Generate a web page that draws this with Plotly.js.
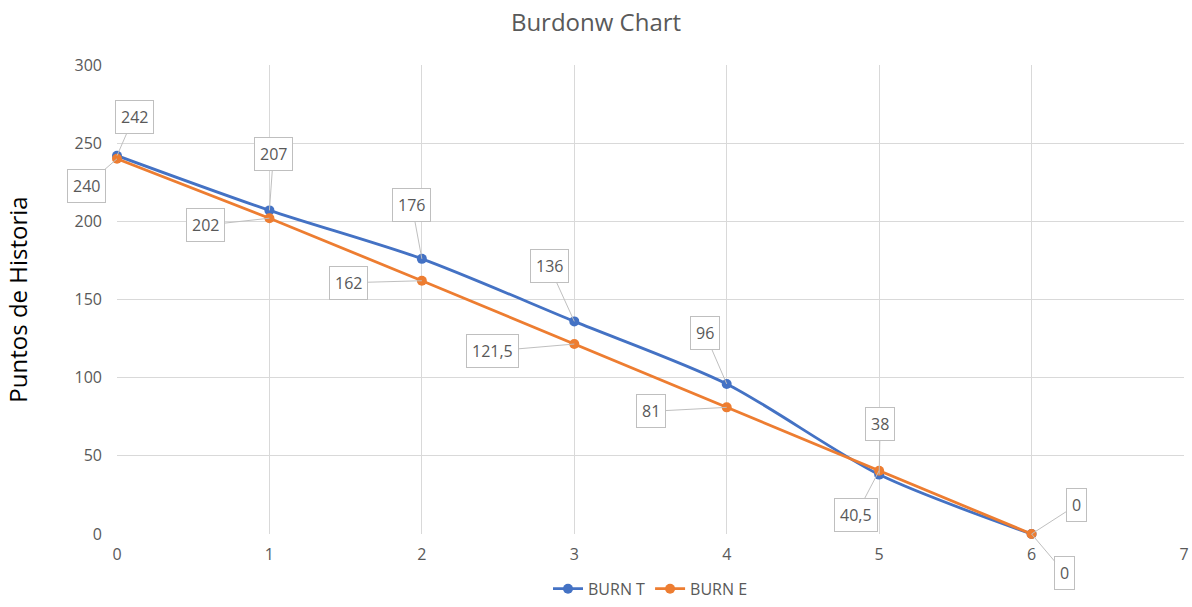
<!DOCTYPE html>
<html><head><meta charset="utf-8">
<script src="https://cdn.plot.ly/plotly-3.0.1.min.js"></script>
<style>html,body{margin:0;padding:0;background:#fff}#chart{width:1192px;height:607px}</style>
</head><body><div id="chart"></div>
<script>
const sprints = [0, 1, 2, 3, 4, 5, 6];
const burnT = [242, 207, 176, 136, 96, 38, 0];
const burnE = [240, 202, 162, 121.5, 81, 40.5, 0];
const labelsT = ["242", "207", "176", "136", "96", "38", "0"];
const labelsE = ["240", "202", "162", "121,5", "81", "40,5", "0"];
// callout offsets (pixels) for each label
const offT = [[17,-39],[4,-56],[-10,-54],[-25,-55],[-22,-51],[1,-51],[45,-29]];
const offE = [[-31,27],[-64,7],[-73,2],[-82,7],[-76,4],[-23,44],[33,39]];

const blue = '#4472C4', orange = '#ED7D31';
const txt = '#595959';

const traces = [
  {x: sprints, y: burnT, name: 'BURN T', type: 'scatter', mode: 'lines+markers',
   line: {color: blue, width: 2.8, shape: 'spline', smoothing: 0.8},
   marker: {color: blue, size: 10}, cliponaxis: false},
  {x: sprints, y: burnE, name: 'BURN E', type: 'scatter', mode: 'lines+markers',
   line: {color: orange, width: 2.8},
   marker: {color: orange, size: 10}, cliponaxis: false}
];

function mk(xs, ys, labels, offs) {
  return xs.map((x, i) => ({
    x: x, y: ys[i], xref: 'x', yref: 'y', text: labels[i],
    showarrow: true, arrowhead: 0, arrowwidth: 1, arrowcolor: '#BFBFBF',
    ax: offs[i][0], ay: offs[i][1], standoff: 0,
    bgcolor: '#FFFFFF', bordercolor: '#BFBFBF', borderwidth: 1, borderpad: 5,
    font: {family: 'Open Sans, sans-serif', size: 16, color: txt}
  }));
}

const layout = {
  width: 1192, height: 607,
  margin: {l: 117, r: 8, t: 65, b: 73, autoexpand: false},
  paper_bgcolor: '#fff', plot_bgcolor: '#fff',
  title: {text: 'Burdonw Chart', x: 0.5, xanchor: 'center', y: 0.962, yanchor: 'middle',
    font: {family: 'Open Sans, sans-serif', size: 24, color: txt}},
  font: {family: 'Open Sans, sans-serif', color: txt},
  xaxis: {range: [0, 7], dtick: 1, tick0: 0, showgrid: true, gridcolor: '#D9D9D9', gridwidth: 1,
    zeroline: false, showline: false, ticks: '', ticklabelstandoff: 9,
    tickfont: {size: 16, color: txt}, fixedrange: true, automargin: false},
  yaxis: {range: [0, 300], dtick: 50, tick0: 0, showgrid: true, gridcolor: '#D9D9D9', gridwidth: 1,
    zeroline: false, showline: false, ticks: '', ticklabelstandoff: 14,
    tickfont: {size: 16, color: txt}, automargin: false,
    title: {text: 'Puntos de Historia', standoff: 40, font: {size: 24, color: '#000'}}, fixedrange: true},
  showlegend: true,
  legend: {orientation: 'h', x: 0.5, xanchor: 'center', yref: 'container', y: 0.03, yanchor: 'middle',
    font: {size: 16, color: txt}},
  annotations: mk(sprints, burnT, labelsT, offT).concat(mk(sprints, burnE, labelsE, offE))
};

Plotly.newPlot('chart', traces, layout, {displayModeBar: false, staticPlot: true});
</script></body></html>
